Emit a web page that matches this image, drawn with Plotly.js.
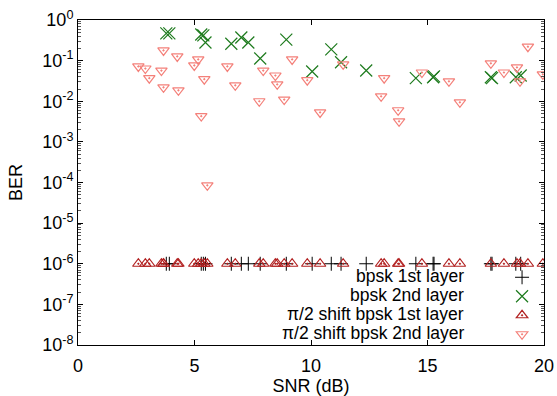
<!DOCTYPE html>
<html>
<head>
<meta charset="utf-8">
<script src="https://cdn.plot.ly/plotly-3.0.1.min.js"></script>
<style>html,body{margin:0;padding:0;background:#fff;}#chart{width:557px;height:396px;}</style>
</head>
<body>
<div id="chart"></div>
<script>
// SNR values (dB) for bpsk series
const snrBpsk = [3.79,3.92,5.29,5.38,5.47,6.58,7.01,7.31,7.82,8.94,10.05,10.87,11.29,12.37,14.5,15.24,15.28,17.72,17.77,18.79,19.0];
const berBpsk1 = [1e-6,1e-6,1e-6,1e-6,1e-6,1e-6,1e-6,1e-6,1e-6,1e-6,1e-6,1e-6,1e-6,1e-6,1e-6,1e-6,1e-6,1e-6,1e-6,1e-6,1e-6];
const berBpsk2 = [0.47,0.47,0.44,0.42,0.28,0.26,0.37,0.28,0.113,0.33,0.054,0.19,0.091,0.057,0.037,0.039,0.041,0.039,0.037,0.039,0.043];

// SNR values (dB) for pi/2 shift bpsk series
const snrShift = [2.59,2.89,3.06,3.58,3.67,3.67,4.26,4.31,4.99,5.16,5.29,5.42,5.55,6.41,6.75,7.78,7.95,8.47,8.55,8.85,9.19,9.84,10.39,11.38,13.01,13.14,13.74,13.78,14.76,15.92,16.39,17.72,18.28,18.84,18.97,19.31,19.95];
const berShift1 = [1e-6,1e-6,1e-6,1e-6,1e-6,1e-6,1e-6,1e-6,1e-6,1e-6,1e-6,1e-6,1e-6,1e-6,1e-6,1e-6,1e-6,1e-6,1e-6,1e-6,1e-6,1e-6,1e-6,1e-6,1e-6,1e-6,1e-6,1e-6,1e-6,1e-6,1e-6,1e-6,1e-6,1e-6,1e-6,1e-6,1e-6];
const berShift2 = [0.072,0.064,0.037,0.057,0.178,0.022,0.127,0.0186,0.076,0.107,0.0043,0.035,8.5e-5,0.072,0.0246,0.010,0.057,0.043,0.026,0.011,0.107,0.033,0.0053,0.081,0.0132,0.037,0.006,0.0032,0.051,0.031,0.0094,0.086,0.051,0.068,0.031,0.22,0.046];

const seriesNames = ['bpsk 1st layer','bpsk 2nd layer','\u03c0/2 shift bpsk 1st layer','\u03c0/2 shift bpsk 2nd layer'];
const xTicks = [0,5,10,15,20];
const yTickVals = [1e-8,1e-7,1e-6,1e-5,1e-4,1e-3,1e-2,1e-1,1];
const yTickText = ['10<sup>-8</sup>','10<sup>-7</sup>','10<sup>-6</sup>','10<sup>-5</sup>','10<sup>-4</sup>','10<sup>-3</sup>','10<sup>-2</sup>','10<sup>-1</sup>','10<sup>0</sup>'];

const FONT = 'Liberation Sans, Arial, sans-serif';
const colors = ['#000000','#1e7b1e','#b22222','#f4807a'];

const traces = [
  {x: snrBpsk, y: berBpsk1, mode:'markers', type:'scatter', name:'\u00a0',
   marker:{symbol:'cross-thin-open', size:10, color:colors[0], line:{color:colors[0], width:1}}},
  {x: snrBpsk, y: berBpsk2, mode:'markers', type:'scatter', name:'\u00a0',
   marker:{symbol:'x-thin-open', size:12, color:colors[1], line:{color:colors[1], width:1.2}}},
  {x: snrShift, y: berShift1, mode:'markers', type:'scatter', name:'\u00a0',
   marker:{symbol:'triangle-up-open-dot', size:10, color:colors[2], line:{color:colors[2], width:1.2}}},
  {x: snrShift, y: berShift2, mode:'markers', type:'scatter', name:'\u00a0',
   marker:{symbol:'triangle-down-open-dot', size:10, color:colors[3], line:{color:colors[3], width:1.2}}}
];

const legendY = [0.2119, 0.1536, 0.0952, 0.0369];
const annotations = seriesNames.map((t,i)=>({
  text:t, xref:'paper', yref:'paper', x:0.833, y:legendY[i], xanchor:'right', yanchor:'middle',
  showarrow:false, font:{family:FONT, size:17.5, color:'#000'}
}));

const layout = {
  width:557, height:396,
  margin:{l:77.5, r:13, t:19.5, b:51, autoexpand:false},
  paper_bgcolor:'#fff', plot_bgcolor:'#fff',
  font:{family:FONT, size:18, color:'#000'},
  showlegend:true,
  legend:{x:1.013, xanchor:'right', y:0.253, yanchor:'top', bgcolor:'rgba(0,0,0,0)',
          font:{family:FONT, size:10}, tracegroupgap:0, itemwidth:30},
  xaxis:{range:[0,20], tickvals:xTicks, ticks:'inside', ticklen:5, tickcolor:'#000',
         showline:true, linecolor:'#000', linewidth:1, mirror:'allticks', showgrid:false, zeroline:false,
         tickfont:{family:FONT, size:18}, automargin:false, ticklabelstandoff:4,
         title:{text:'SNR (dB)', font:{family:FONT, size:18}, standoff:13}},
  yaxis:{type:'log', range:[-8,0], tickvals:yTickVals, ticktext:yTickText, ticks:'inside', ticklen:5, tickcolor:'#000',
         showline:true, linecolor:'#000', linewidth:1, mirror:'allticks', showgrid:false, zeroline:false,
         tickfont:{family:FONT, size:18}, automargin:false,
         minor:{ticks:'inside', ticklen:3, tickcolor:'#555', dtick:'D1', showgrid:false},
         title:{text:'BER', font:{family:FONT, size:18}, standoff:14}},
  annotations: annotations
};

Plotly.newPlot('chart', traces, layout, {staticPlot:true, displayModeBar:false});
</script>
</body>
</html>
